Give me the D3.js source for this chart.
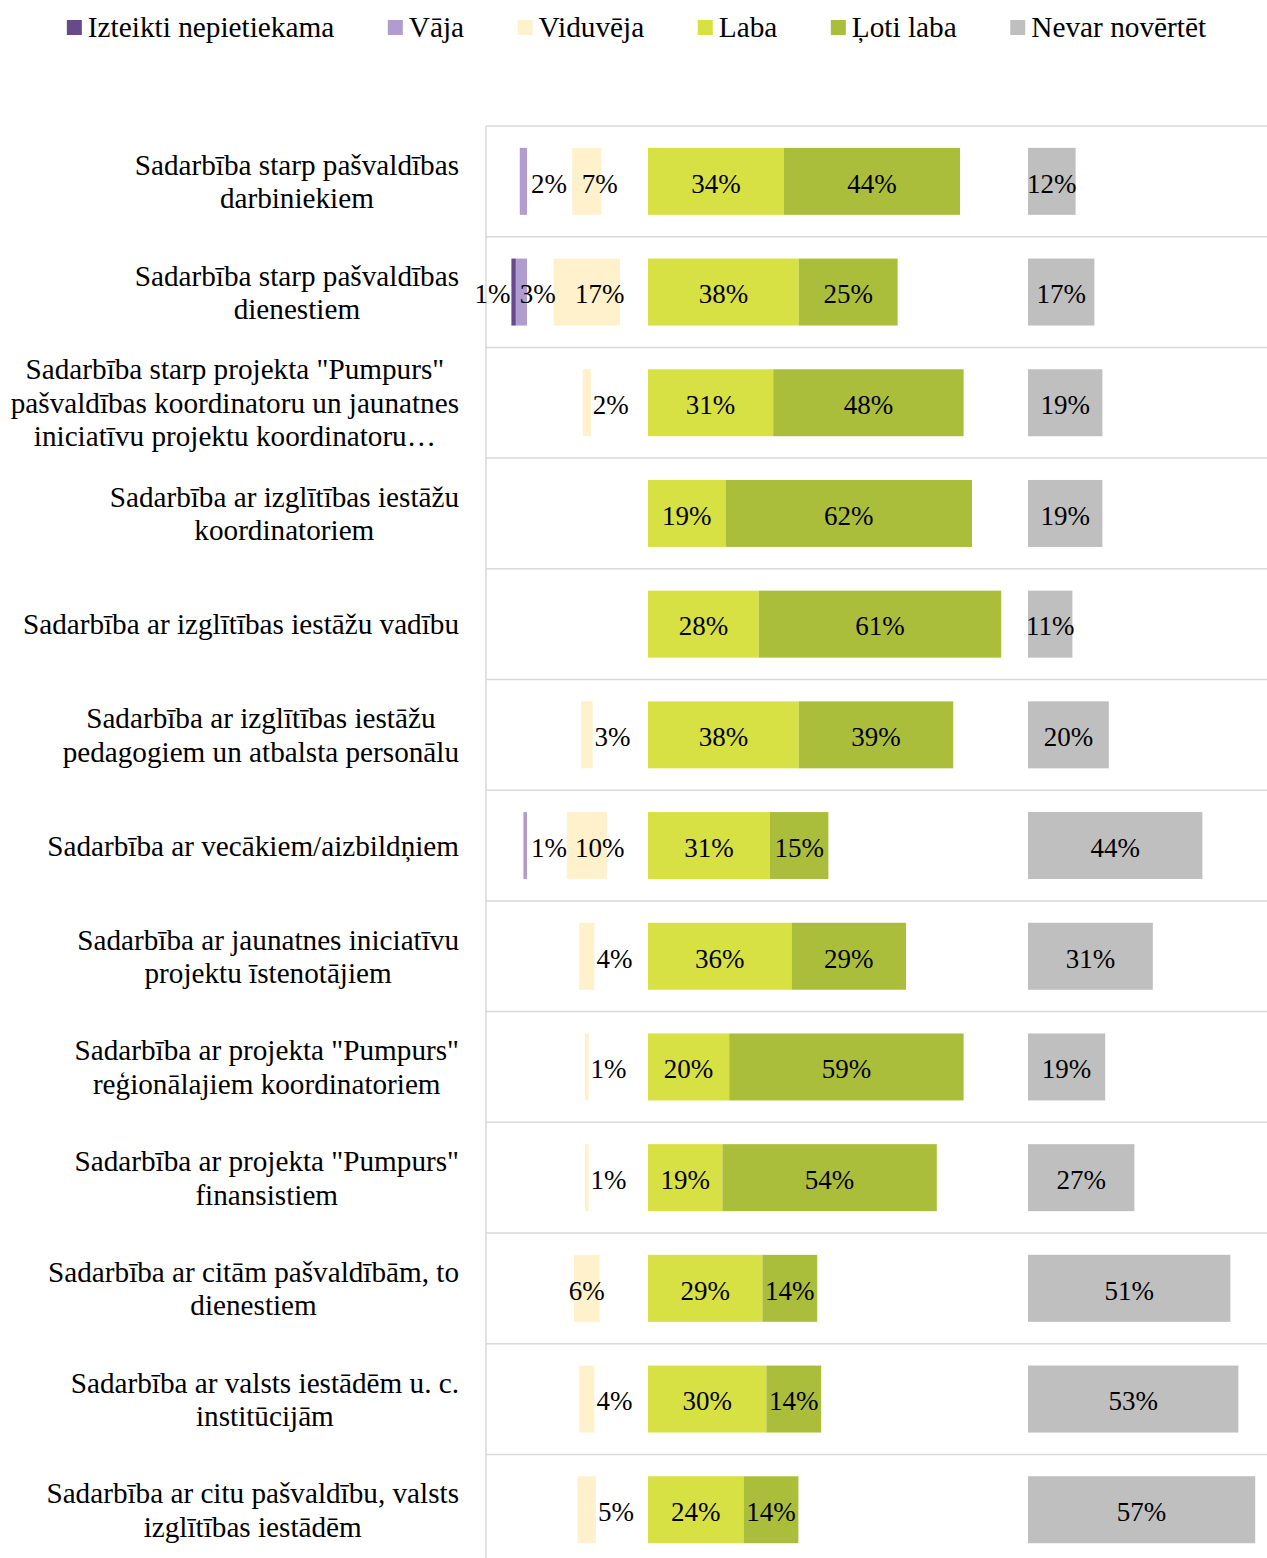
<!DOCTYPE html>
<html><head><meta charset="utf-8">
<script src="https://cdn.jsdelivr.net/npm/d3@7"></script>
<style>
body{margin:0;background:#fff}
text{font-family:"Liberation Serif","Times New Roman",serif;fill:#000}
</style>
</head><body><svg id="chart" width="1267" height="1558"></svg>
<script>
const categories = [
  "Sadarbība starp pašvaldības\ndarbiniekiem",
  "Sadarbība starp pašvaldības\ndienestiem",
  "Sadarbība starp projekta \"Pumpurs\"\npašvaldības koordinatoru un jaunatnes\niniciatīvu projektu koordinatoru…",
  "Sadarbība ar izglītības iestāžu\nkoordinatoriem",
  "Sadarbība ar izglītības iestāžu vadību",
  "Sadarbība ar izglītības iestāžu\npedagogiem un atbalsta personālu",
  "Sadarbība ar vecākiem/aizbildņiem",
  "Sadarbība ar jaunatnes iniciatīvu\nprojektu īstenotājiem",
  "Sadarbība ar projekta \"Pumpurs\"\nreģionālajiem koordinatoriem",
  "Sadarbība ar projekta \"Pumpurs\"\nfinansistiem",
  "Sadarbība ar citām pašvaldībām, to\ndienestiem",
  "Sadarbība ar valsts iestādēm u. c.\ninstitūcijām",
  "Sadarbība ar citu pašvaldību, valsts\nizglītības iestādēm"
];
const seriesNames = ["Izteikti nepietiekama","Vāja","Viduvēja","Laba","Ļoti laba","Nevar novērtēt"];
const izteikti = [0, 1.1, 0, 0, 0, 0, 0, 0, 0, 0, 0, 0, 0];
const vaja     = [1.8, 2.8, 0, 0, 0, 0, 0.9, 0, 0, 0, 0, 0, 0];
const viduveja = [7.3, 16.6, 2.0, 0, 0, 2.9, 10, 3.8, 0.9, 0.9, 6.4, 3.8, 4.6];
const laba     = [34, 37.7, 31.3, 19.4, 27.7, 37.7, 30.5, 35.9, 20.3, 18.6, 28.6, 29.6, 23.9];
const lotiLaba = [44, 24.7, 47.6, 61.6, 60.6, 38.6, 14.6, 28.6, 58.6, 53.6, 13.7, 13.7, 13.7];
const nevar    = [11.9, 16.6, 18.6, 18.6, 11.1, 20.2, 43.6, 31.2, 19.3, 26.6, 50.6, 52.6, 56.8];

const colors = ["#674a8c", "#b09ccf", "#fff1cc", "#d8e144", "#abbe3b", "#bfbfbf"];

const svg = d3.select("#chart");
const W = 1267;
const fmt = d3.format(".0%");
const pct = v => fmt(v / 100);

// layout (in percent units on x scale)
const NEG_END = -30.25, NEUTRAL_CENTER = -15.3, NA_START = 95;
const x = d3.scaleLinear().domain([-40.5, 154.75]).range([486, 1267]);
const idx = d3.range(categories.length);
const y = d3.scaleBand().domain(idx).range([126, 126 + 13 * 110.7]).paddingInner(0.395).paddingOuter(0.1975);
const step = y.step();

// gridlines
const grid = svg.append("g");
d3.range(categories.length + 1).forEach(i => {
  const yy = 126 + i * step;
  grid.append("line").attr("x1", 486).attr("x2", W).attr("y1", yy).attr("y2", yy)
    .attr("stroke", "#d9d9d9").attr("stroke-width", 1.5);
});
grid.append("line").attr("x1", 486).attr("x2", 486).attr("y1", 126).attr("y2", 1600)
  .attr("stroke", "#d9d9d9").attr("stroke-width", 1.5);

// segments
const segs = [];
idx.forEach(i => {
  const v0 = vaja[i], v1 = izteikti[i];
  if (v0 > 0) segs.push({s: 1, i, x0: NEG_END - v0, x1: NEG_END, v: v0, lab: v1 > 0 ? "startInside" : "startAfter"});
  if (v1 > 0) segs.push({s: 0, i, x0: NEG_END - v0 - v1, x1: NEG_END - v0, v: v1, lab: "endBefore"});
  const vd = viduveja[i];
  if (vd > 0) segs.push({s: 2, i, x0: NEUTRAL_CENTER - vd / 2, x1: NEUTRAL_CENTER + vd / 2, v: vd,
    lab: vd >= 7 ? "shift" : (vd > 5 ? "mid" : "startAfter2")});
  if (laba[i] > 0) segs.push({s: 3, i, x0: 0, x1: laba[i], v: laba[i], lab: "mid"});
  if (lotiLaba[i] > 0) segs.push({s: 4, i, x0: laba[i], x1: laba[i] + lotiLaba[i], v: lotiLaba[i], lab: "mid"});
  if (nevar[i] > 0) segs.push({s: 5, i, x0: NA_START, x1: NA_START + nevar[i], v: nevar[i], lab: "mid"});
});

svg.append("g").selectAll("rect").data(segs).join("rect")
  .attr("x", d => x(d.x0)).attr("width", d => x(d.x1) - x(d.x0))
  .attr("y", d => y(d.i)).attr("height", y.bandwidth())
  .attr("fill", d => colors[d.s]);

svg.append("g").selectAll("text").data(segs).join("text")
  .attr("font-size", 27)
  .attr("y", d => y(d.i) + y.bandwidth() / 2)
  .attr("dy", "0.42em")
  .text(d => pct(d.v))
  .each(function(d) {
    const t = d3.select(this);
    const xa = x(d.x0), xb = x(d.x1);
    if (d.lab === "mid") t.attr("x", (xa + xb) / 2).attr("text-anchor", "middle");
    else if (d.lab === "shift") t.attr("x", (xa + xb) / 2 + 13).attr("text-anchor", "middle");
    else if (d.lab === "startAfter") t.attr("x", xb + 4).attr("text-anchor", "start");
    else if (d.lab === "startInside") t.attr("x", xa + 4).attr("text-anchor", "start");
    else if (d.lab === "startAfter2") t.attr("x", xb + 2).attr("text-anchor", "start");
    else if (d.lab === "endBefore") t.attr("x", xa - 1).attr("text-anchor", "end");
  });

// category labels
const catFS = 29.2, lh = 33.5, rightEdge = 459;
const cg = svg.append("g");
idx.forEach(i => {
  const lines = categories[i].split("\n");
  const c = y(i) + y.bandwidth() / 2;
  const g = cg.append("g");
  const texts = lines.map((ln, k) => g.append("text")
    .attr("font-size", catFS)
    .attr("text-anchor", "middle")
    .attr("y", c - (lines.length - 1) / 2 * lh + k * lh)
    .attr("dy", "0.35em")
    .text(ln));
  const maxW = d3.max(texts, t => t.node().getComputedTextLength());
  texts.forEach(t => t.attr("x", rightEdge - maxW / 2));
});

// legend
const legFS = 29.3, sq = 15, gapText = 6, gapItem = 53.5;
const lg = svg.append("g");
const items = seriesNames.map((n, k) => {
  const g = lg.append("g");
  g.append("rect").attr("width", sq).attr("height", sq).attr("y", 20).attr("fill", colors[k]);
  const t = g.append("text").attr("x", sq + gapText).attr("y", 37).attr("font-size", legFS).text(n);
  return {g, w: sq + gapText + t.node().getComputedTextLength()};
});
const total = d3.sum(items, d => d.w) + gapItem * (items.length - 1);
let cx = 636.5 - total / 2;
items.forEach(it => { it.g.attr("transform", `translate(${cx},0)`); cx += it.w + gapItem; });
</script>
</body></html>
